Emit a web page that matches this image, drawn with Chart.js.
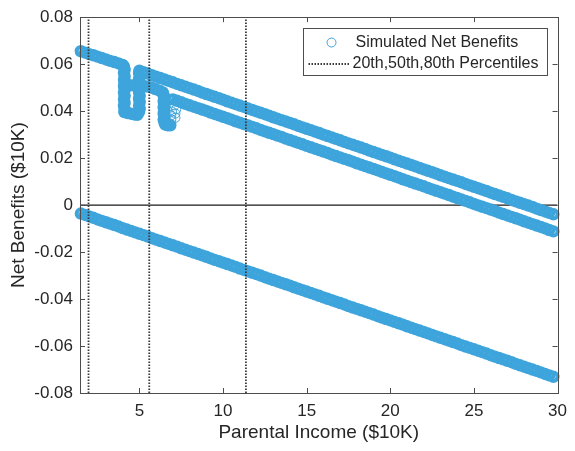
<!DOCTYPE html>
<html>
<head>
<meta charset="utf-8">
<script src="https://cdn.jsdelivr.net/npm/chart.js@4.4.1/dist/chart.umd.min.js"></script>
<style>
html, body { margin: 0; padding: 0; background: #fff; }
#wrap { width: 575px; height: 451px; }
</style>
</head>
<body>
<div id="wrap"><canvas id="netChart" width="575" height="451"></canvas></div>
<script>
// axis ranges and ticks
const xRange = [1.45, 30];
const yRange = [-0.08, 0.08];
const xTicks = [5, 10, 15, 20, 25, 30];
const yTicks = [-0.08, -0.06, -0.04, -0.02, 0, 0.02, 0.04, 0.06, 0.08];

// 20th, 50th, 80th percentiles of parental income
const percentileIncome = [1.96, 5.59, 11.37];

// lower band of simulated net benefits
const lowIncome = [1.5,1.75,2,2.25,2.5,2.75,3,3.25,3.5,3.75,4,4.25,4.5,4.75,5,5.25,5.5,5.75,6,6.25,6.5,6.75,7,7.25,7.5,7.75,8,8.25,8.5,8.75,9,9.25,9.5,9.75,10,10.25,10.5,10.75,11,11.25,11.5,11.75,12,12.25,12.5,12.75,13,13.25,13.5,13.75,14,14.25,14.5,14.75,15,15.25,15.5,15.75,16,16.25,16.5,16.75,17,17.25,17.5,17.75,18,18.25,18.5,18.75,19,19.25,19.5,19.75,20,20.25,20.5,20.75,21,21.25,21.5,21.75,22,22.25,22.5,22.75,23,23.25,23.5,23.75,24,24.25,24.5,24.75,25,25.25,25.5,25.75,26,26.25,26.5,26.75,27,27.25,27.5,27.75,28,28.25,28.5,28.75,29,29.25,29.5,29.75];
const lowBenefit = [-0.0036,-0.0042,-0.0048,-0.0054,-0.0061,-0.0067,-0.0073,-0.0079,-0.0085,-0.0091,-0.0098,-0.0104,-0.0110,-0.0116,-0.0122,-0.0128,-0.0134,-0.0141,-0.0147,-0.0153,-0.0159,-0.0165,-0.0171,-0.0177,-0.0184,-0.0190,-0.0196,-0.0202,-0.0208,-0.0214,-0.0220,-0.0227,-0.0233,-0.0239,-0.0245,-0.0251,-0.0257,-0.0263,-0.0270,-0.0276,-0.0282,-0.0288,-0.0294,-0.0300,-0.0307,-0.0313,-0.0319,-0.0325,-0.0331,-0.0337,-0.0343,-0.0350,-0.0356,-0.0362,-0.0368,-0.0374,-0.0380,-0.0386,-0.0393,-0.0399,-0.0405,-0.0411,-0.0417,-0.0423,-0.0430,-0.0436,-0.0442,-0.0448,-0.0454,-0.0460,-0.0466,-0.0473,-0.0479,-0.0485,-0.0491,-0.0497,-0.0503,-0.0509,-0.0516,-0.0522,-0.0528,-0.0534,-0.0540,-0.0546,-0.0553,-0.0559,-0.0565,-0.0571,-0.0577,-0.0583,-0.0589,-0.0596,-0.0602,-0.0608,-0.0614,-0.0620,-0.0626,-0.0632,-0.0639,-0.0645,-0.0651,-0.0657,-0.0663,-0.0669,-0.0676,-0.0682,-0.0688,-0.0694,-0.0700,-0.0706,-0.0712,-0.0719,-0.0725,-0.0731];

// top band (with the dip near 4-5)
const topIncome = [1.5,1.75,2,2.25,2.5,2.75,3,3.25,3.5,3.75,4,
  4.08,4.12,4.08,4.12,4.08,4.12,4.08,4.12,4.08,4.12,4.08,4.12,4.08,4.12,4.1,
  4.3,4.5,4.7,4.88,
  4.98,5.02,4.98,5.02,4.98,5.02,4.98,5.02,4.98,5.02,4.98,5.02,4.98,5,
  5.25,5.5,5.75,6,6.25,6.5,6.75,7,7.25,7.5,7.75,8,8.25,8.5,8.75,9,9.25,9.5,9.75,10,10.25,10.5,10.75,11,11.25,11.5,11.75,12,12.25,12.5,12.75,13,13.25,13.5,13.75,14,14.25,14.5,14.75,15,15.25,15.5,15.75,16,16.25,16.5,16.75,17,17.25,17.5,17.75,18,18.25,18.5,18.75,19,19.25,19.5,19.75,20,20.25,20.5,20.75,21,21.25,21.5,21.75,22,22.25,22.5,22.75,23,23.25,23.5,23.75,24,24.25,24.5,24.75,25,25.25,25.5,25.75,26,26.25,26.5,26.75,27,27.25,27.5,27.75,28,28.25,28.5,28.75,29,29.25,29.5,29.75];
const topBenefit = [0.0655,0.0649,0.0643,0.0638,0.0632,0.0626,0.0620,0.0614,0.0609,0.0603,0.0597,
  0.0590,0.0576,0.0562,0.0548,0.0534,0.0520,0.0506,0.0492,0.0478,0.0464,0.0450,0.0436,0.0422,0.0408,0.0396,
  0.0392,0.0389,0.0386,0.0384,
  0.0396,0.0410,0.0424,0.0438,0.0452,0.0466,0.0480,0.0494,0.0508,0.0522,0.0536,0.0550,0.0564,0.0572,
  0.0566,0.0560,0.0553,0.0547,0.0541,0.0535,0.0529,0.0523,0.0516,0.0510,0.0504,0.0498,0.0492,0.0486,0.0479,0.0473,0.0467,0.0461,0.0455,0.0449,0.0442,0.0436,0.0430,0.0424,0.0418,0.0411,0.0405,0.0399,0.0393,0.0387,0.0381,0.0374,0.0368,0.0362,0.0356,0.0350,0.0344,0.0337,0.0331,0.0325,0.0319,0.0313,0.0307,0.0300,0.0294,0.0288,0.0282,0.0276,0.0269,0.0263,0.0257,0.0251,0.0245,0.0239,0.0232,0.0226,0.0220,0.0214,0.0208,0.0202,0.0195,0.0189,0.0183,0.0177,0.0171,0.0165,0.0158,0.0152,0.0146,0.0140,0.0134,0.0127,0.0121,0.0115,0.0109,0.0103,0.0097,0.0090,0.0084,0.0078,0.0072,0.0066,0.0060,0.0053,0.0047,0.0041,0.0035,0.0029,0.0022,0.0016,0.0010,0.0004,-0.0002,-0.0008,-0.0015,-0.0021,-0.0027,-0.0033,-0.0039];

// middle band (with the dip near 6.5-7)
const midIncome = [4.2,4.45,4.7,4.95,5.2,5.45,5.7,5.95,6.2,6.4,
  6.45,6.5,6.45,6.5,6.45,6.5,6.45,6.5,6.45,6.5,6.55,
  6.7,6.85,
  7,7.25,7.5,7.75,8,8.25,8.5,8.75,9,9.25,9.5,9.75,10,10.25,10.5,10.75,11,11.25,11.5,11.75,12,12.25,12.5,12.75,13,13.25,13.5,13.75,14,14.25,14.5,14.75,15,15.25,15.5,15.75,16,16.25,16.5,16.75,17,17.25,17.5,17.75,18,18.25,18.5,18.75,19,19.25,19.5,19.75,20,20.25,20.5,20.75,21,21.25,21.5,21.75,22,22.25,22.5,22.75,23,23.25,23.5,23.75,24,24.25,24.5,24.75,25,25.25,25.5,25.75,26,26.25,26.5,26.75,27,27.25,27.5,27.75,28,28.25,28.5,28.75,29,29.25,29.5,29.75];
const midBenefit = [0.0510,0.0510,0.0509,0.0508,0.0507,0.0505,0.0501,0.0494,0.0487,0.0480,
  0.0468,0.0455,0.0442,0.0429,0.0416,0.0403,0.0390,0.0377,0.0364,0.0352,0.0343,
  0.0340,0.0340,
  0.0450,0.0444,0.0438,0.0431,0.0425,0.0419,0.0413,0.0407,0.0401,0.0394,0.0388,0.0382,0.0376,0.0370,0.0364,0.0357,0.0351,0.0345,0.0339,0.0333,0.0327,0.0320,0.0314,0.0308,0.0302,0.0296,0.0290,0.0283,0.0277,0.0271,0.0265,0.0259,0.0252,0.0246,0.0240,0.0234,0.0228,0.0222,0.0215,0.0209,0.0203,0.0197,0.0191,0.0185,0.0178,0.0172,0.0166,0.0160,0.0154,0.0148,0.0141,0.0135,0.0129,0.0123,0.0117,0.0110,0.0104,0.0098,0.0092,0.0086,0.0080,0.0073,0.0067,0.0061,0.0055,0.0049,0.0043,0.0036,0.0030,0.0024,0.0018,0.0012,0.0005,-0.0001,-0.0007,-0.0013,-0.0019,-0.0025,-0.0032,-0.0038,-0.0044,-0.0050,-0.0056,-0.0062,-0.0069,-0.0075,-0.0081,-0.0087,-0.0093,-0.0099,-0.0106,-0.0112];

// a few scattered circles inside the second dip
const sparseIncome = [6.9, 6.9, 6.95, 7.15, 7.15, 7.2, 7.1];
const sparseBenefit = [0.0365, 0.0382, 0.0398, 0.0372, 0.0390, 0.0408, 0.0425];

const FONT = "'Liberation Sans', Arial, sans-serif";
const BLUE = '#3ea4dc';
const AXIS = '#4d4d4d';
const TEXT = '#262626';
const DOTS = '#3a3a3a';

function toPoints(xs, ys) {
    return xs.map((x, i) => ({ x: x, y: ys[i] }));
}

const bandPoints = [].concat(
    toPoints(lowIncome, lowBenefit),
    toPoints(topIncome, topBenefit),
    toPoints(midIncome, midBenefit)
);

// higher order is drawn first: zero line under the markers, dotted lines on top
const datasets = [{
    type: 'scatter',
    label: 'Simulated Net Benefits',
    data: bandPoints,
    pointStyle: 'circle',
    pointRadius: 4.2,
    pointBorderWidth: 4,
    borderColor: BLUE,
    backgroundColor: 'rgba(0,0,0,0)',
    clip: false,
    order: 3
}, {
    type: 'scatter',
    label: 'Simulated Net Benefits',
    data: toPoints(sparseIncome, sparseBenefit),
    pointStyle: 'circle',
    pointRadius: 4.6,
    pointBorderWidth: 1,
    borderColor: BLUE,
    backgroundColor: 'rgba(0,0,0,0)',
    order: 4
}, {
    type: 'line',
    label: 'zero',
    data: [{ x: xRange[0], y: 0 }, { x: xRange[1], y: 0 }],
    borderColor: '#1a1a1a',
    borderWidth: 1.2,
    pointRadius: 0,
    order: 5
}];
percentileIncome.forEach(p => {
    datasets.push({
        type: 'line',
        label: '20th,50th,80th Percentiles',
        data: [{ x: p, y: yRange[0] }, { x: p, y: yRange[1] }],
        borderColor: DOTS,
        borderWidth: 1.8,
        borderDash: [1.5, 1.5],
        pointRadius: 0,
        order: 1
    });
});

// box around the axes with inward ticks, like the original figure
const boxTicks = {
    id: 'boxTicks',
    afterDraw(chart) {
        const { ctx, chartArea: a, scales } = chart;
        ctx.save();
        ctx.strokeStyle = AXIS;
        ctx.lineWidth = 1;
        ctx.beginPath();
        xTicks.forEach(v => {
            const px = Math.round(scales.x.getPixelForValue(v)) + 0.5;
            ctx.moveTo(px, a.bottom); ctx.lineTo(px, a.bottom - 5);
            ctx.moveTo(px, a.top); ctx.lineTo(px, a.top + 5);
        });
        yTicks.forEach(v => {
            const py = Math.round(scales.y.getPixelForValue(v)) + 0.5;
            ctx.moveTo(a.left, py); ctx.lineTo(a.left + 5, py);
            ctx.moveTo(a.right, py); ctx.lineTo(a.right - 5, py);
        });
        ctx.stroke();
        ctx.strokeRect(Math.round(a.left) + 0.5, Math.round(a.top) + 0.5,
            Math.round(a.right - a.left), Math.round(a.bottom - a.top));
        ctx.restore();
    }
};

// legend box in the upper right corner
const cornerLegend = {
    id: 'cornerLegend',
    afterDraw(chart) {
        const { ctx, chartArea: a } = chart;
        const w = 244, h = 47;
        const left = Math.round(a.right - 11 - w) + 0.5;
        const top = Math.round(a.top + 11) + 0.5;
        ctx.save();
        ctx.fillStyle = '#fff';
        ctx.fillRect(left, top, w, h);
        ctx.strokeStyle = AXIS;
        ctx.lineWidth = 1;
        ctx.strokeRect(left, top, w, h);

        ctx.strokeStyle = BLUE;
        ctx.lineWidth = 1;
        ctx.beginPath();
        ctx.arc(left + 28, top + 14, 4.5, 0, Math.PI * 2);
        ctx.stroke();

        ctx.strokeStyle = DOTS;
        ctx.lineWidth = 1.8;
        ctx.setLineDash([1.5, 1.5]);
        ctx.beginPath();
        ctx.moveTo(left + 5, top + 35.5);
        ctx.lineTo(left + 47, top + 35.5);
        ctx.stroke();
        ctx.setLineDash([]);

        ctx.fillStyle = TEXT;
        ctx.font = '16px ' + FONT;
        ctx.textBaseline = 'middle';
        ctx.textAlign = 'left';
        ctx.fillText('Simulated Net Benefits', left + 52, top + 14);
        ctx.fillText('20th,50th,80th Percentiles', left + 49, top + 35.5);
        ctx.restore();
    }
};

const ctx = document.getElementById('netChart').getContext('2d');
const netChart = new Chart(ctx, {
    data: { datasets: datasets },
    options: {
        responsive: false,
        animation: false,
        devicePixelRatio: 1,
        layout: { padding: { left: 0, right: 11, top: 14, bottom: 0 } },
        plugins: {
            legend: { display: false },
            tooltip: { enabled: false }
        },
        scales: {
            x: {
                type: 'linear',
                min: xRange[0],
                max: xRange[1],
                afterBuildTicks: s => { s.ticks = xTicks.map(v => ({ value: v })); },
                afterFit: s => { s.height = 58; },
                grid: { display: false, drawTicks: false },
                border: { display: false },
                ticks: {
                    color: TEXT,
                    font: { family: FONT, size: 17 },
                    padding: 8,
                    maxRotation: 0,
                    autoSkip: false
                },
                title: {
                    display: true,
                    text: 'Parental Income ($10K)',
                    color: TEXT,
                    font: { family: FONT, size: 19 },
                    padding: { top: 0, bottom: 7 }
                }
            },
            y: {
                type: 'linear',
                min: yRange[0],
                max: yRange[1],
                afterBuildTicks: s => { s.ticks = yTicks.map(v => ({ value: v })); },
                afterFit: s => { s.width = 80; },
                grid: { display: false, drawTicks: false },
                border: { display: false },
                ticks: {
                    color: TEXT,
                    font: { family: FONT, size: 17 },
                    padding: 7,
                    callback: v => (Math.abs(v) < 1e-9 ? '0' : v.toFixed(2))
                },
                title: {
                    display: true,
                    text: 'Net Benefits ($10K)',
                    color: TEXT,
                    font: { family: FONT, size: 19 },
                    padding: { top: 7, bottom: 0 }
                }
            }
        }
    },
    plugins: [boxTicks, cornerLegend]
});
</script>
</body>
</html>
